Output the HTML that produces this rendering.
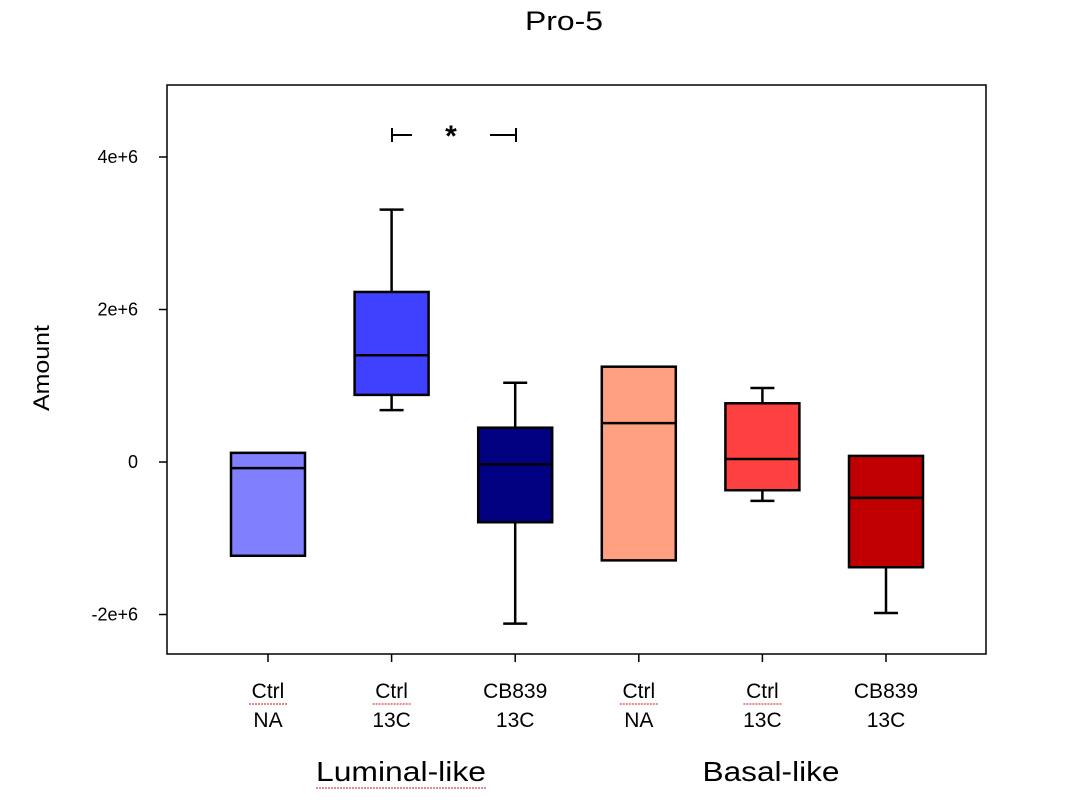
<!DOCTYPE html>
<html><head><meta charset="utf-8"><style>
body{margin:0;background:#fff;}
svg{display:block;font-family:"Liberation Sans",Arial,sans-serif;}
</style></head><body>
<svg id="chart" width="1082" height="802">
<text x="564" y="30" text-anchor="middle" font-size="27" textLength="78" lengthAdjust="spacingAndGlyphs">Pro-5</text>
<rect x="167" y="85" width="819" height="569" fill="none" stroke="#000" stroke-width="1.5"/>
<text transform="translate(49,368) rotate(-90)" text-anchor="middle" font-size="22" textLength="86" lengthAdjust="spacingAndGlyphs">Amount</text>
<g id="yaxis"></g>
<g id="boxes"></g>
<g stroke="#000" stroke-width="2">
<line x1="392" y1="135" x2="412" y2="135"/><line x1="392" y1="128" x2="392" y2="142"/>
<line x1="490" y1="135" x2="516" y2="135"/><line x1="516" y1="128" x2="516" y2="142"/>
</g>
<text x="451" y="146" text-anchor="middle" font-size="30" font-weight="bold">*</text>
<text x="401" y="781" text-anchor="middle" font-size="28" textLength="170" lengthAdjust="spacingAndGlyphs">Luminal-like</text>
<line x1="316" y1="788" x2="486" y2="788" stroke="#e04040" stroke-width="1.2" stroke-dasharray="2,1"/>
<text x="771" y="781" text-anchor="middle" font-size="28" textLength="137" lengthAdjust="spacingAndGlyphs">Basal-like</text>
</svg>
<script>
const categories1=["Ctrl","Ctrl","CB839","Ctrl","Ctrl","CB839"];
const categories2=["NA","13C","13C","NA","13C","13C"];
const q1=[-1.23e6,0.88e6,-0.79e6,-1.29e6,-0.37e6,-1.38e6];
const q3=[0.12e6,2.23e6,0.45e6,1.25e6,0.77e6,0.08e6];
const medians=[-0.08e6,1.40e6,-0.03e6,0.51e6,0.04e6,-0.47e6];
const whiskLow=[null,0.68e6,-2.12e6,null,-0.51e6,-1.98e6];
const whiskHigh=[null,3.31e6,1.04e6,null,0.97e6,null];
const colors=["#8080ff","#4040ff","#000080","#ffa080","#ff4040","#c00000"];
const yTicks=[-2e6,0,2e6,4e6];
const yTickLabels=["-2e+6","0","2e+6","4e+6"];
const NS="http://www.w3.org/2000/svg";
const y=v=>462-v*(152.5/2e6);
const x=i=>268+i*123.6;
function mk(t,a,p){const e=document.createElementNS(NS,t);for(const k in a)e.setAttribute(k,a[k]);p.appendChild(e);return e;}
const ya=document.getElementById('yaxis');
yTicks.forEach((v,i)=>{
 const l=mk('line',{x1:159,x2:167,y1:y(v),y2:y(v),stroke:'#000','stroke-width':1.5},ya);
 
 
 const t=mk('text',{x:138,y:y(v)+6,'text-anchor':'end','font-size':18},ya);
 t.textContent=yTickLabels[i];
 
 
});
const bg=document.getElementById('boxes');
const svg=document.getElementById('chart');
categories1.forEach((c,i)=>{
 const cx=x(i),hw=37;
 const g=mk('g',{stroke:'#000','stroke-width':2.5},bg);
 
 
 if(whiskHigh[i]!==null){mk('line',{x1:cx,x2:cx,y1:y(q3[i]),y2:y(whiskHigh[i])},g);mk('line',{x1:cx-12,x2:cx+12,y1:y(whiskHigh[i]),y2:y(whiskHigh[i])},g);}
 if(whiskLow[i]!==null){mk('line',{x1:cx,x2:cx,y1:y(q1[i]),y2:y(whiskLow[i])},g);mk('line',{x1:cx-12,x2:cx+12,y1:y(whiskLow[i]),y2:y(whiskLow[i])},g);}
 mk('rect',{x:cx-hw,y:y(q3[i]),width:hw*2,height:y(q1[i])-y(q3[i]),fill:colors[i]},g);
 mk('line',{x1:cx-hw,x2:cx+hw,y1:y(medians[i]),y2:y(medians[i])},g);
 mk('line',{x1:cx,x2:cx,y1:654,y2:662,'stroke-width':1.5},g);
 const t1=mk('text',{x:cx,y:698,'text-anchor':'middle','font-size':21},svg);
 t1.textContent=c;
 
 
 if(c==="Ctrl"){
  const u=mk('line',{x1:cx-19,x2:cx+19,y1:704,y2:704,stroke:'#e04040','stroke-width':1.2,'stroke-dasharray':'2,1'},svg);
  
  
 }
 const t2=mk('text',{x:cx,y:727,'text-anchor':'middle','font-size':21},svg);
 t2.textContent=categories2[i];
 
 
});
</script>
</body></html>
